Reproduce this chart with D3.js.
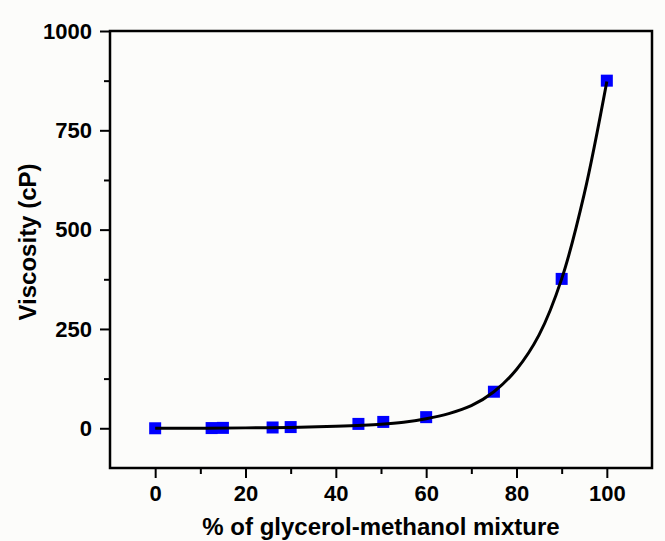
<!DOCTYPE html>
<html>
<head>
<meta charset="utf-8">
<script src="https://cdn.jsdelivr.net/npm/d3@7"></script>
<style>
  body { margin: 0; background: #fcfcfa; }
  svg { display: block; }
</style>
</head>
<body>
<svg id="chart" width="665" height="541"></svg>
<script>
// measured points
const mixPercent = [0, 12.5, 15, 26, 30, 45, 50.5, 60, 75, 90, 100];
const viscosity = [0, 0.5, 1, 2, 3, 11, 16, 28, 92, 376, 875];

// fitted curve
const fitX = [0, 10, 20, 30, 40, 50, 55, 60, 65, 70, 75, 80, 85, 90, 95, 100];
const fitY = [0, 0.3, 1, 2, 5, 10, 15, 24, 37, 57, 92, 148, 235, 376, 590, 873];

const xMajorTicks = [0, 20, 40, 60, 80, 100];
const xMinorTicks = [10, 30, 50, 70, 90];
const yMajorTicks = [0, 250, 500, 750, 1000];
const yMinorTicks = [125, 375, 625, 875];

const LEFT = 110, RIGHT = 652, TOP = 31, BOTTOM = 468;
const FONT = 'Liberation Sans, Arial, sans-serif';

const svg = d3.select('#chart');

const x = d3.scaleLinear().domain([-10, 110]).range([LEFT, RIGHT]);
const y = d3.scaleLinear().domain([-100, 1000]).range([BOTTOM, TOP]);

function styleAxis(g) {
    g.selectAll('path').remove();
    g.selectAll('line').style('stroke', '#000').style('stroke-width', 2);
    g.selectAll('text')
        .style('font-family', FONT).style('font-size', '22px')
        .style('font-weight', 'bold').style('fill', '#000');
}

// minor ticks first
svg.append('g')
    .attr('transform', `translate(0,${BOTTOM})`)
    .call(d3.axisBottom(x).tickValues(xMinorTicks).tickSize(6).tickFormat(''))
    .call(styleAxis);
svg.append('g')
    .attr('transform', `translate(${LEFT},0)`)
    .call(d3.axisLeft(y).tickValues(yMinorTicks).tickSize(6).tickFormat(''))
    .call(styleAxis);

svg.append('g')
    .attr('transform', `translate(0,${BOTTOM})`)
    .call(d3.axisBottom(x).tickValues(xMajorTicks).tickSize(10).tickPadding(7).tickFormat(d3.format('d')))
    .call(styleAxis);
svg.append('g')
    .attr('transform', `translate(${LEFT},0)`)
    .call(d3.axisLeft(y).tickValues(yMajorTicks).tickSize(10).tickPadding(8).tickFormat(d3.format('d')))
    .call(styleAxis);

// frame
svg.append('rect')
    .attr('x', LEFT).attr('y', TOP)
    .attr('width', RIGHT - LEFT).attr('height', BOTTOM - TOP)
    .style('fill', 'none').style('stroke', '#000').style('stroke-width', 2.5);

// markers
const SIZE = 12;
svg.append('g').selectAll('rect')
    .data(mixPercent.map((d, i) => [d, viscosity[i]]))
    .join('rect')
    .attr('x', d => x(d[0]) - SIZE / 2)
    .attr('y', d => y(d[1]) - SIZE / 2)
    .attr('width', SIZE).attr('height', SIZE)
    .style('fill', '#0000ff');

// fit line on top of markers
const line = d3.line()
    .x(d => x(d[0])).y(d => y(d[1]))
    .curve(d3.curveCatmullRom.alpha(0.5));

svg.append('path')
    .datum(fitX.map((d, i) => [d, fitY[i]]))
    .attr('d', line)
    .style('fill', 'none').style('stroke', '#000').style('stroke-width', 3);

// axis titles
svg.append('text')
    .text('% of glycerol-methanol mixture')
    .attr('x', (LEFT + RIGHT) / 2).attr('y', 535)
    .style('text-anchor', 'middle')
    .style('font-family', FONT).style('font-size', '24px').style('font-weight', 'bold');

svg.append('text')
    .text('Viscosity (cP)')
    .attr('transform', 'translate(36,242) rotate(-90)')
    .style('text-anchor', 'middle')
    .style('font-family', FONT).style('font-size', '24px').style('font-weight', 'bold');
</script>
</body>
</html>
